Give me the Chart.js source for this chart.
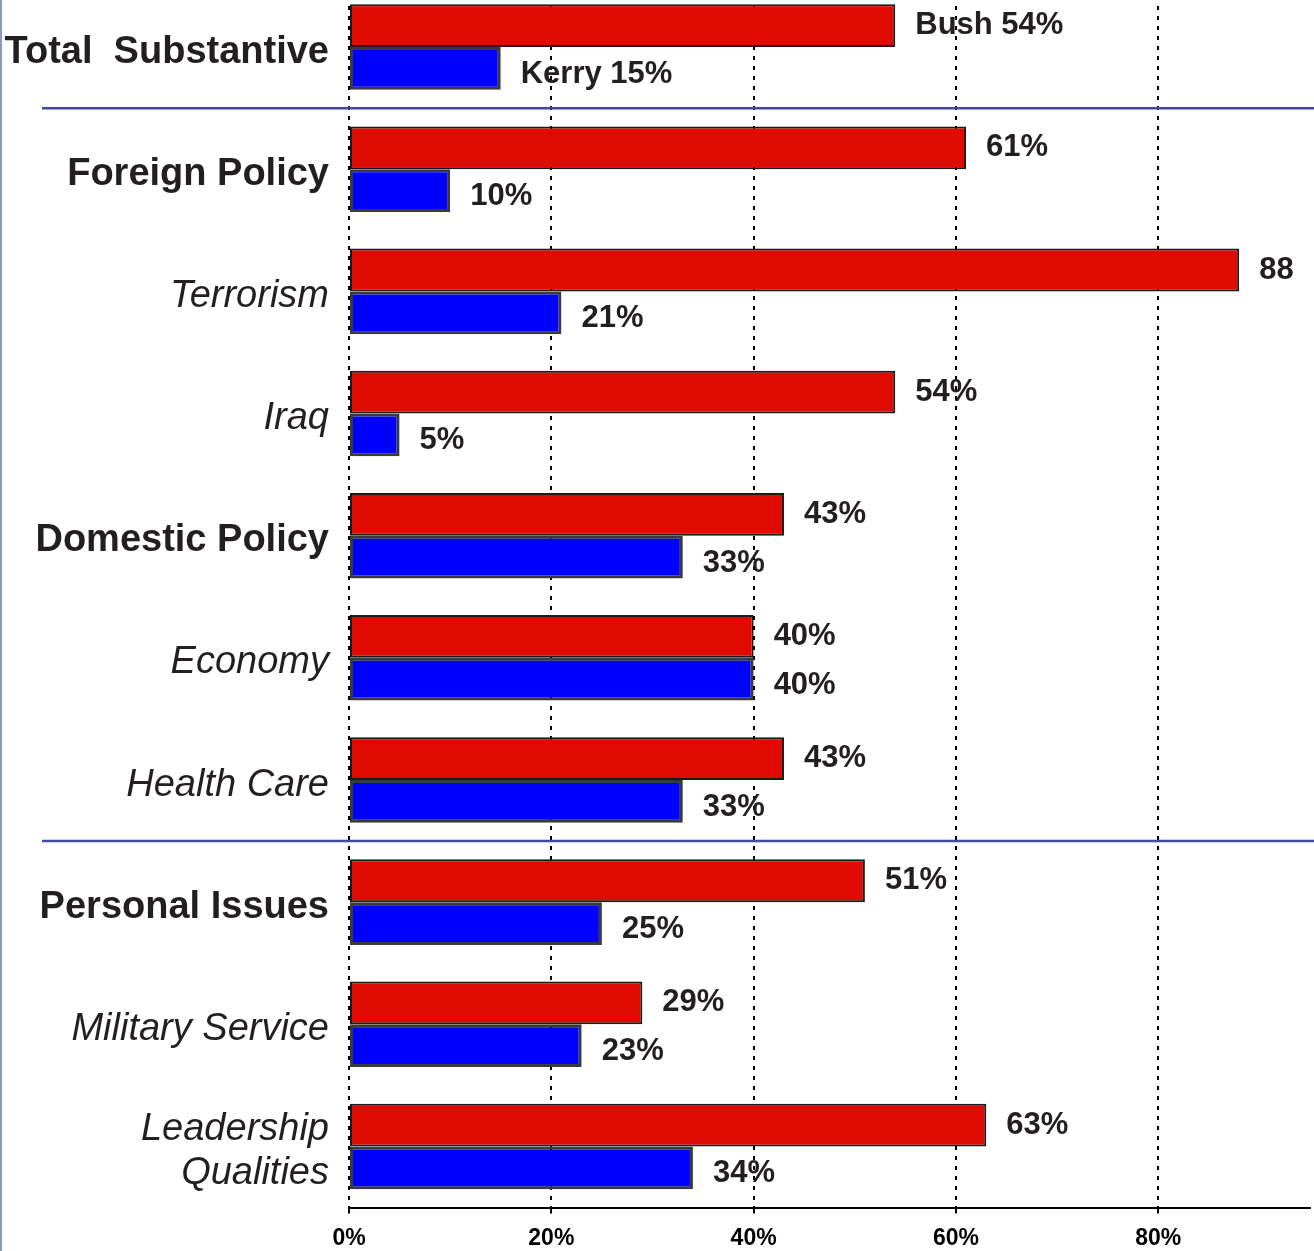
<!DOCTYPE html>
<html>
<head>
<meta charset="utf-8">
<title>Bush / Kerry</title>
<script src="https://cdn.jsdelivr.net/npm/chart.js@4.4.1/dist/chart.umd.min.js"></script>
<style>
  html, body { margin: 0; padding: 0; background: #fff; overflow: hidden; }
  #cadre { width: 1314px; height: 1251px; overflow: hidden; }
  /* la première ligne est rognée en haut */
  #graphique { display: block; margin-top: -14px; }
</style>
</head>
<body>
<div id="cadre"><canvas id="graphique" width="1314" height="1265"></canvas></div>
<script>
// Lignes du graphique, de haut en bas
const categories = ['Total  Substantive', 'Foreign Policy', 'Terrorism', 'Iraq', 'Domestic Policy',
    'Economy', 'Health Care', 'Personal Issues', 'Military Service', ['Leadership', 'Qualities']];
// Rubriques principales (gras), les autres sont des sous-rubriques (italique)
const rubriques = ['Total  Substantive', 'Foreign Policy', 'Domestic Policy', 'Personal Issues'];
const bushValeurs = [54, 61, 88, 54, 43, 40, 43, 51, 29, 63];
const kerryValeurs = [15, 10, 21, 5, 33, 40, 33, 25, 23, 34];
const ticksX = [0, 20, 40, 60, 80];
const maxX = 95;
// Séparateurs tracés au-dessus de ces lignes
const lignesSeparees = [1, 7];

const police = "'Liberation Sans', Arial, Helvetica, sans-serif";
const encre = '#231f20';

function texteValeur(ds, i) {
    const v = ds.data[i];
    const nom = i === 0 ? ds.label + ' ' : '';
    const pct = (ds.label === 'Bush' && categories[i] === 'Terrorism') ? '' : '%';
    return nom + v + pct;
}

const decor = {
    id: 'decor',
    beforeDatasetsDraw(chart) {
        const { ctx, scales: { y } } = chart;
        ctx.save();
        // traits de séparation entre les blocs
        ctx.strokeStyle = '#3f4b9f';
        ctx.lineWidth = 2.5;
        lignesSeparees.forEach(r => {
            const py = y.getPixelForValue(r - 0.5);
            ctx.beginPath();
            ctx.moveTo(42, py);
            ctx.lineTo(chart.width, py);
            ctx.stroke();
        });
        // filet à gauche
        ctx.strokeStyle = '#8b95d6';
        ctx.lineWidth = 2;
        ctx.beginPath();
        ctx.moveTo(1, 0);
        ctx.lineTo(1, chart.height);
        ctx.stroke();
        ctx.restore();
    },
    afterDatasetsDraw(chart) {
        const { ctx } = chart;
        ctx.save();
        ctx.font = `bold 31px ${police}`;
        ctx.fillStyle = encre;
        ctx.textAlign = 'left';
        ctx.textBaseline = 'middle';
        chart.data.datasets.forEach((ds, d) => {
            chart.getDatasetMeta(d).data.forEach((barre, i) => {
                ctx.fillText(texteValeur(ds, i), barre.x + 20, barre.y + ds.decalageTexte);
            });
        });
        ctx.restore();
    }
};

const ctx = document.getElementById('graphique').getContext('2d');

new Chart(ctx, {
    type: 'bar',
    data: {
        labels: categories,
        datasets: [
            {
                label: 'Bush',
                data: bushValeurs,
                backgroundColor: '#e00a00',
                borderColor: '#1a1a1a',
                borderWidth: 2,
                borderSkipped: false,
                decalageTexte: 0
            },
            {
                label: 'Kerry',
                data: kerryValeurs,
                backgroundColor: '#0000ff',
                borderColor: '#3a3a3a',
                borderWidth: 3,
                borderSkipped: false,
                decalageTexte: 6
            }
        ]
    },
    options: {
        indexAxis: 'y',
        responsive: false,
        animation: false,
        layout: { padding: { top: 0, right: 4, left: 0, bottom: 0 } },
        datasets: { bar: { categoryPercentage: 0.7, barPercentage: 1 } },
        plugins: {
            legend: { display: false },
            tooltip: { enabled: false }
        },
        scales: {
            x: {
                min: 0,
                max: maxX,
                afterBuildTicks: (axe) => { axe.ticks = ticksX.map(v => ({ value: v })); },
                afterFit: (axe) => { axe.height = 43.5; axe.paddingLeft = 0; axe.paddingRight = 0; },
                grid: {
                    color: '#000',
                    lineWidth: 2,
                    tickLength: 6,
                    tickColor: '#000',
                    tickWidth: 2,
                    tickBorderDash: []
                },
                // en v4, "dash" s'applique aux lignes de grille
                border: { display: true, color: '#000', width: 2, dash: [4, 6] },
                ticks: {
                    padding: 11,
                    color: '#000',
                    font: { family: police, size: 23, weight: 'bold' },
                    callback: (v) => v + '%'
                }
            },
            y: {
                grid: { display: false, drawTicks: false },
                border: { display: false },
                afterFit: (axe) => { axe.width = 349; axe.paddingTop = 0; axe.paddingBottom = 0; },
                ticks: {
                    padding: 20,
                    labelOffset: 5,
                    color: encre,
                    font: (c) => {
                        const gras = rubriques.includes(categories[c.index]);
                        return {
                            family: police,
                            size: 38,
                            weight: gras ? 'bold' : 'normal',
                            style: gras ? 'normal' : 'italic',
                            lineHeight: 1.17
                        };
                    }
                }
            }
        }
    },
    plugins: [decor]
});
</script>
</body>
</html>
